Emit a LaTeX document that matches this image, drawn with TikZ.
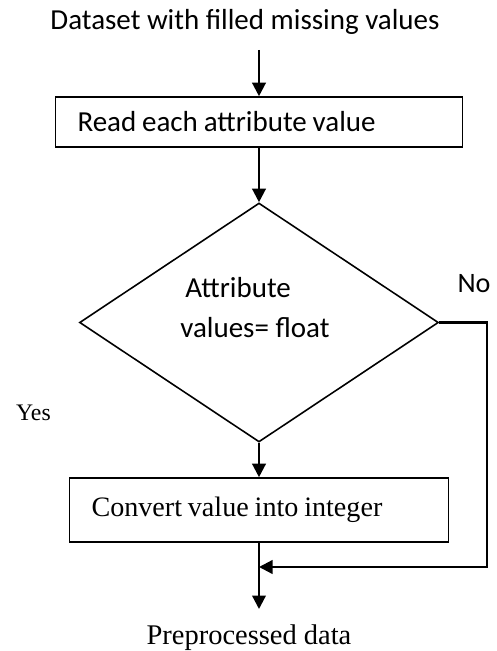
\documentclass[tikz,border=0pt]{standalone}
\usepackage{fontspec}
\setmainfont{Carlito}
\newfontfamily\serifface{Liberation Serif}
\usetikzlibrary{shapes.geometric}
\usetikzlibrary{arrows.meta}

\begin{document}
\begin{tikzpicture}[box/.style={draw, line width=0.9pt, inner ysep=0pt, align=left, inner xsep=0.44cm},
  arr/.style={line width=1.3pt, -{Triangle[length=0.27cm,width=0.27cm]}}]
\useasboundingbox (0,0) rectangle (9.94,-13.02);
\node (title) at (4.9,-0.44) {\fontsize{16.5}{20}\selectfont Dataset with filled missing values};
\coordinate (in) at (5.18,-1.0);
\node [box, text width=7.26cm, minimum height=1.0cm] (read) at (5.18,-2.44) {\fontsize{16.5}{20}\selectfont Read each attribute value};
\node [draw, diamond, line width=0.9pt, minimum width=7.18cm, minimum height=4.78cm, inner sep=0pt] (dec) at (5.18,-6.45) {};
\node [anchor=west, align=left, inner sep=0pt, font=\fontsize{16.5}{22.5}\selectfont] (dectext) at (3.6,-6.15) {\hspace{0.1cm}Attribute\\ values= float};
\node (no) at (9.48,-5.68) {\fontsize{16}{20}\selectfont No};
\node (yes) at (0.67,-8.26) {\serifface\fontsize{13.5}{16}\selectfont Yes};
\node [box, minimum height=1.28cm, text width=6.70cm] (conv) at (5.18,-10.2) {\serifface\fontsize{16}{20}\selectfont Convert value into integer};
\coordinate (corner) at (9.74,-11.34);
\coordinate (out) at (5.18,-12.18);
\node (result) at (4.98,-12.76) {\serifface\fontsize{16.2}{20}\selectfont Preprocessed data};

\draw [arr] (in) -- (read.north);
\draw [arr] (read.south) -- (dec.north);
\draw [arr] (dec.south) -- (conv.north);
\draw [arr] (conv.south) -- (out);
\draw [arr] (dec.east) -| (corner) -- (conv.south |- corner);

\end{tikzpicture}
\end{document}
